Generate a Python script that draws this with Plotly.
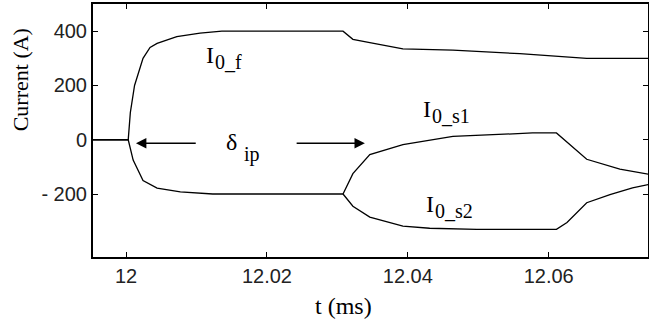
import plotly.graph_objects as go

# time axis (ms) and currents (A)
t_f = [11.9953, 12.0003, 12.0006, 12.0012, 12.0024, 12.0034, 12.0044, 12.0072, 12.0105,
       12.0136, 12.0308, 12.0322, 12.0346, 12.0393, 12.0464, 12.0559, 12.0654, 12.0742]
i_f = [0, 0, 100, 200, 300, 340, 355, 380, 393,
       400, 400, 370, 358, 335, 330, 317, 300, 300]

# both slave currents share the same path until the split at ~12.031 ms
t_s = [11.9953, 12.0003, 12.0010, 12.0024, 12.0044, 12.0077, 12.0123, 12.0308]
i_s = [0, 0, -75, -150, -178, -192, -200, -200]

t_s1 = [12.0308, 12.0322, 12.0346, 12.0393, 12.0464, 12.0577, 12.0611, 12.0626,
        12.0654, 12.0701, 12.0742]
i_s1 = [-200, -125, -55, -18, 12, 25, 25, -10, -72, -108, -127]

t_s2 = [12.0308, 12.0322, 12.0346, 12.0393, 12.0431, 12.0498, 12.0611, 12.0626,
        12.0654, 12.0687, 12.0719, 12.0742]
i_s2 = [-200, -245, -285, -318, -326, -330, -330, -305, -232, -202, -177, -165]

x_ticks = [12, 12.02, 12.04, 12.06]
x_tick_text = ['12', '12.02', '12.04', '12.06']
y_ticks = [-200, 0, 200, 400]
y_tick_text = ['- 200', '0', '200', '400']

line = dict(color='black', width=1.3)
fig = go.Figure()
for xs, ys in [(t_f, i_f), (t_s, i_s), (t_s1, i_s1), (t_s2, i_s2)]:
    fig.add_trace(go.Scatter(x=xs, y=ys, mode='lines', line=line, showlegend=False))

serif = 'Liberation Serif, Times New Roman, serif'

# curve labels: (symbol, subscript, x, y, subscript x-offset px, subscript drop px)
labels = [
    ('I', '0_f', 12.0112, 311, 9, 7),
    ('I', '0_s1', 12.0420, 112, 9, 7),
    ('I', '0_s2', 12.0424, -237, 9, 7),
    ('δ', 'ip', 12.0140, -9, 18, 12),
]
for main, low, x, y, dx, dy in labels:
    fig.add_annotation(x=x, y=y, text=main, showarrow=False, xanchor='left',
                       yanchor='middle', borderpad=0,
                       font=dict(family=serif, size=24, color='black'))
    fig.add_annotation(x=x, y=y, text=low, showarrow=False, xanchor='left',
                       yanchor='middle', borderpad=0, xshift=dx, yshift=-dy,
                       font=dict(family=serif, size=20, color='black'))

# delta arrows
for tip, tail in [(12.0014, 12.0101), (12.0339, 12.0240)]:
    fig.add_annotation(x=tip, y=-13, ax=tail, ay=-13, axref='x', ayref='y',
                       text='', showarrow=True, arrowhead=2, arrowsize=1.6,
                       arrowwidth=1.3, arrowcolor='black')

fig.add_annotation(x=-0.13, xref='paper', y=222, yref='y', xanchor='center', yanchor='middle',
                   text='Current (A)', textangle=-90, showarrow=False,
                   font=dict(family=serif, size=22, color='black'))
fig.add_annotation(x=0.452, xref='paper', y=-0.194, yref='paper', xanchor='center',
                   yanchor='middle', text='t (ms)', showarrow=False,
                   font=dict(family=serif, size=24, color='black'))

axis = dict(showline=True, linecolor='black', linewidth=2, mirror='ticks',
            ticks='inside', ticklen=5, tickcolor='black', showgrid=False,
            zeroline=False, automargin=False,
            tickfont=dict(family='Liberation Sans, Arial', size=20, color='#222'))
fig.update_xaxes(**axis, range=[11.9953, 12.0741], tickvals=x_ticks, ticktext=x_tick_text)
fig.update_yaxes(**axis, range=[-432, 500], tickvals=y_ticks, ticktext=y_tick_text)

fig.update_layout(width=649, height=324, margin=dict(l=93, r=1, t=4, b=67),
                  plot_bgcolor='white', paper_bgcolor='white')
fig.write_html("out.html", config={'displayModeBar': False},
               post_script="document.body.style.margin='0px';")
